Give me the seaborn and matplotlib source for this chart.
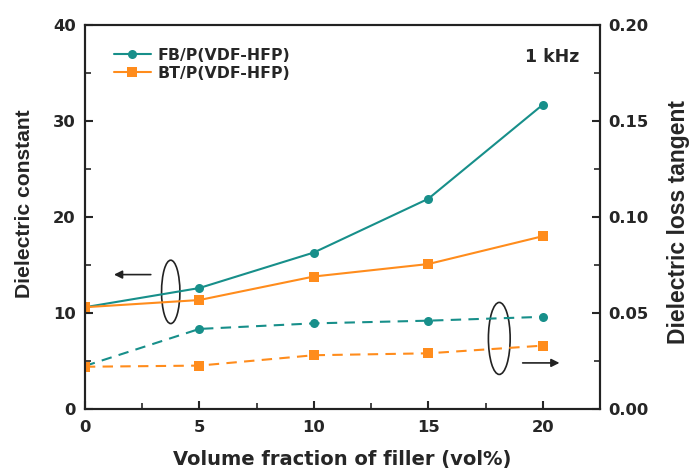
import numpy as np
import pandas as pd
import matplotlib
matplotlib.use("Agg")
import matplotlib.pyplot as plt
from matplotlib.patches import Ellipse
from matplotlib.ticker import MultipleLocator, FormatStrFormatter
import seaborn as sns

sns.set_style("ticks")
plt.rcParams['font.family'] = ['DejaVu Sans']
plt.rcParams['font.weight'] = 'bold'

volume = [0, 5, 10, 15, 20]
fb_eps = [10.6, 12.6, 16.3, 21.9, 31.7]
bt_eps = [10.6, 11.35, 13.8, 15.1, 18.0]
fb_tan = [0.0224, 0.0417, 0.0446, 0.046, 0.048]
bt_tan = [0.022, 0.0226, 0.028, 0.029, 0.033]
labels = ["FB/P(VDF-HFP)", "BT/P(VDF-HFP)"]

teal = "#178f8a"
orange = "#ff8c1c"

df_eps = pd.DataFrame({"vol": volume * 2, "val": fb_eps + bt_eps,
                       "series": [labels[0]] * 5 + [labels[1]] * 5})
df_tan = pd.DataFrame({"vol": volume * 2, "val": fb_tan + bt_tan,
                       "series": [labels[0]] * 5 + [labels[1]] * 5})

fig = plt.figure(figsize=(6.9, 4.72), dpi=100)
ax = fig.add_axes([0.123, 0.1335, 0.7466, 0.8135])
ax2 = ax.twinx()

pal = {labels[0]: teal, labels[1]: orange}
mk = {labels[0]: "o", labels[1]: "s"}
sns.lineplot(data=df_eps, x="vol", y="val", hue="series", style="series",
             palette=pal, markers=mk, dashes=False, markersize=6.5,
             markeredgewidth=0, linewidth=1.5, ax=ax, legend=True)
sns.lineplot(data=df_tan, x="vol", y="val", hue="series", style="series",
             palette=pal, markers=mk, dashes={labels[0]: (5, 3.5), labels[1]: (5, 3.5)},
             markersize=6.5, markeredgewidth=0, linewidth=1.5, ax=ax2, legend=False)

ax.set_xlim(0, 22.5)
ax.set_ylim(0, 40)
ax2.set_ylim(0, 0.20)
ax.xaxis.set_major_locator(MultipleLocator(5))
ax.xaxis.set_minor_locator(MultipleLocator(2.5))
ax.yaxis.set_major_locator(MultipleLocator(10))
ax.yaxis.set_minor_locator(MultipleLocator(5))
ax2.yaxis.set_major_locator(MultipleLocator(0.05))
ax2.yaxis.set_minor_locator(MultipleLocator(0.025))
ax2.yaxis.set_major_formatter(FormatStrFormatter('%.2f'))

for a in (ax, ax2):
    for s in a.spines.values():
        s.set_linewidth(1.5)
        s.set_color("#222222")
    a.tick_params(which='major', direction='in', length=6, width=1.5, labelsize=11.8)
    a.tick_params(which='minor', direction='in', length=4, width=1.2)
ax.tick_params(axis='y', which='both', right=False, pad=6.5)
ax2.tick_params(axis='y', which='both', pad=6)
ax.tick_params(axis='x', which='both', top=False, pad=8)
for lab in ax.get_xticklabels() + ax.get_yticklabels() + ax2.get_yticklabels():
    lab.set_fontweight('bold')

ax.set_xlabel("Volume fraction of filler (vol%)", fontsize=14.0, fontweight='bold', labelpad=11)
ax.set_ylabel("Dielectric constant", fontsize=15.2, fontweight='bold', labelpad=14,
              family=['Liberation Sans', 'DejaVu Sans'])
ax.yaxis.label.set_y(0.534)
ax2.set_ylabel("Dielectric loss tangent", fontsize=16.5, fontweight='bold', labelpad=13,
               family=['Liberation Sans', 'DejaVu Sans'])
ax2.yaxis.label.set_y(0.488)

leg = ax.legend(loc='upper left', bbox_to_anchor=(0.03, 0.978), frameon=False,
                fontsize=11.3, handlelength=2.3, handletextpad=0.45, labelspacing=0.2)
for t in leg.get_texts():
    t.set_fontweight('bold')

ax.text(0.96, 0.917, "1 kHz", transform=ax.transAxes, ha='right', va='center',
        fontsize=12.5, fontweight='bold')

ax.add_patch(Ellipse((3.75, 12.2), 0.8, 6.6, fill=False, lw=1.2, ec='#222222'))
ax.annotate("", xy=(1.15, 14.0), xytext=(3.0, 14.0),
            arrowprops=dict(arrowstyle='-|>', color='#222222', lw=1.2, mutation_scale=12))
ax.add_patch(Ellipse((18.1, 7.35), 0.95, 7.5, fill=False, lw=1.2, ec='#222222'))
ax.annotate("", xy=(20.85, 4.8), xytext=(19.0, 4.8),
            arrowprops=dict(arrowstyle='-|>', color='#222222', lw=1.2, mutation_scale=12))

fig.savefig("out.png", dpi=100)
